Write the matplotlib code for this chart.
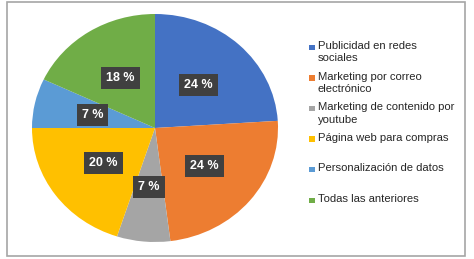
import matplotlib
matplotlib.use("Agg")
import matplotlib.pyplot as plt
from matplotlib.patches import Rectangle

plt.rcParams['font.family'] = ['Liberation Sans', 'DejaVu Sans']

categories = ["Publicidad en redes\nsociales",
              "Marketing por correo\nelectrónico",
              "Marketing de contenido por\nyoutube",
              "Página web para compras",
              "Personalización de datos",
              "Todas las anteriores"]
values = [24, 24, 7, 20, 7, 18]
colours = ["#4472C4", "#ED7D31", "#A5A5A5", "#FFC000", "#5B9BD5", "#70AD47"]

fig = plt.figure(figsize=(4.74, 2.59), dpi=100)
fig.patch.set_facecolor("white")

# outer frame
fig.add_artist(Rectangle((7 / 474, 1 - 256 / 259), 458 / 474, 254 / 259,
                         transform=fig.transFigure, fill=False,
                         edgecolor="#A6A6A6", linewidth=1.2))

ax = fig.add_axes([32 / 474, 1 - 242 / 259, 246 / 474, 228 / 259])
wedges, texts, autotexts = ax.pie(
    values, colors=colours, startangle=90, counterclock=False,
    autopct=lambda p: f"{p:.0f} %", pctdistance=0.52,
    wedgeprops=dict(linewidth=0),
    textprops=dict(color="white", fontsize=9, fontweight="bold"))
ax.set_aspect("auto")
ax.set_xlim(-1, 1)
ax.set_ylim(-1, 1)

for t in autotexts:
    t.set_bbox(dict(boxstyle="square,pad=0.4", facecolor="#404040",
                    edgecolor="none"))

# legend drawn by hand so every entry gets the same slot
y0 = 1 - 47 / 259
step = 30.6 / 259
for i, (lab, col) in enumerate(zip(categories, colours)):
    y = y0 - i * step
    fig.add_artist(Rectangle((309 / 474, y - 3 / 259), 5.5 / 474, 5.5 / 259,
                             transform=fig.transFigure, facecolor=col,
                             edgecolor="none"))
    fig.text(317.5 / 474, y + 6 / 259, lab, fontsize=8.1, color="#262626",
             va="top", ha="left", linespacing=1.3,
             transform=fig.transFigure)

fig.savefig("out.png", dpi=100)
